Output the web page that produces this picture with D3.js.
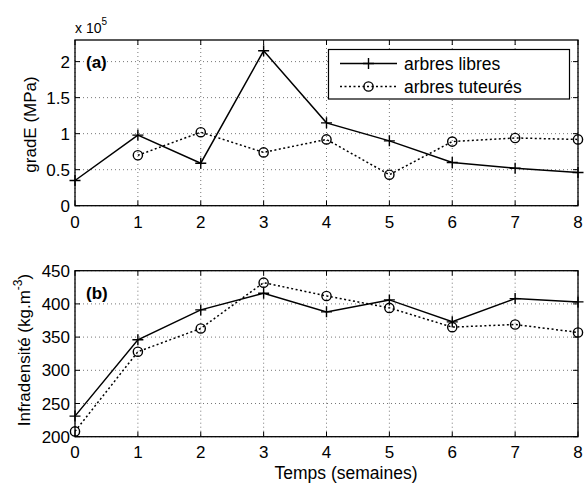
<!DOCTYPE html>
<html><head><meta charset="utf-8">
<script src="https://cdn.jsdelivr.net/npm/d3@7"></script>
<style>body{margin:0;background:#fff} text{font-family:"Liberation Sans",Arial,Helvetica,sans-serif;fill:#000}</style>
</head><body><svg id="c" width="584" height="483"></svg>
<script>
// ---- data ----
const weeks = [0,1,2,3,4,5,6,7,8];
const gradELibres   = [0.35,0.98,0.59,2.15,1.15,0.90,0.60,0.52,0.46];   // x 1e5 MPa
const gradETuteures = [null,0.70,1.02,0.74,0.92,0.43,0.89,0.94,0.92];
const infraLibres   = [231,346,391,416,388,406,373,408,403];
const infraTuteures = [208,328,363,432,412,394,365,369,357];
const xTicks  = [0,1,2,3,4,5,6,7,8];
const yTicksA = [0,0.5,1,1.5,2];
const yTicksB = [200,250,300,350,400,450];
const seriesNames = ["arbres libres","arbres tuteurés"];

const svg = d3.select("#c");
const L = 75, R = 578;
const x = d3.scaleLinear().domain([0,8]).range([L,R]);

function plus(g, px, py){
  g.append("path").attr("d",`M${px-5.5},${py}H${px+5.5}M${px},${py-5.5}V${py+5.5}`)
   .attr("stroke","#000").attr("stroke-width",1.4).attr("fill","none");
}
function circ(g, px, py){
  g.append("circle").attr("cx",px).attr("cy",py).attr("r",4.6)
   .attr("stroke","#000").attr("stroke-width",1.4).attr("fill","none");
}

function panel(top, bottom, domain, yTicks, libres, tuteures, label, fmt, xLabBase){
  const y = d3.scaleLinear().domain(domain).range([bottom, top]);
  const g = svg.append("g");
  // grid
  xTicks.forEach(t=>{
    g.append("line").attr("x1",x(t)).attr("x2",x(t)).attr("y1",top).attr("y2",bottom)
     .attr("stroke","#777").attr("stroke-width",1).attr("stroke-dasharray","1,3");
  });
  yTicks.forEach(t=>{
    g.append("line").attr("x1",L).attr("x2",R).attr("y1",y(t)).attr("y2",y(t))
     .attr("stroke","#777").attr("stroke-width",1).attr("stroke-dasharray","1,3");
  });
  // ticks inward on all sides
  xTicks.forEach(t=>{
    g.append("line").attr("x1",x(t)).attr("x2",x(t)).attr("y1",bottom).attr("y2",bottom-5).attr("stroke","#000");
    g.append("line").attr("x1",x(t)).attr("x2",x(t)).attr("y1",top).attr("y2",top+5).attr("stroke","#000");
    g.append("text").attr("x",x(t)).attr("y",xLabBase).attr("text-anchor","middle")
     .attr("font-size",17).text(t);
  });
  yTicks.forEach(t=>{
    g.append("line").attr("x1",L).attr("x2",L+5).attr("y1",y(t)).attr("y2",y(t)).attr("stroke","#000");
    g.append("line").attr("x1",R).attr("x2",R-5).attr("y1",y(t)).attr("y2",y(t)).attr("stroke","#000");
    g.append("text").attr("x",70).attr("y",y(t)).attr("dy","0.36em").attr("text-anchor","end")
     .attr("font-size",17).text(fmt(t));
  });
  g.append("rect").attr("x",L).attr("y",top).attr("width",R-L).attr("height",bottom-top)
   .attr("fill","none").attr("stroke","#000").attr("stroke-width",1.3);
  // lines
  const line = d3.line().defined(d=>d[1]!==null).x(d=>x(d[0])).y(d=>y(d[1]));
  const dl = weeks.map((w,i)=>[w,libres[i]]);
  const dt = weeks.map((w,i)=>[w,tuteures[i]]);
  g.append("path").attr("d",line(dt.filter(d=>d[1]!==null))).attr("fill","none")
   .attr("stroke","#000").attr("stroke-width",1.5).attr("stroke-dasharray","2,2.5");
  g.append("path").attr("d",line(dl)).attr("fill","none")
   .attr("stroke","#000").attr("stroke-width",1.5);
  dl.forEach(d=>plus(g,x(d[0]),y(d[1])));
  dt.filter(d=>d[1]!==null).forEach(d=>circ(g,x(d[0]),y(d[1])));
  g.append("text").attr("x",86).attr("y",top+28).attr("font-size",17).attr("font-weight","bold").text(label);
  return {g,y};
}

const A = panel(40, 205.7, [0,2.3], yTicksA, gradELibres, gradETuteures, "(a)", d=>String(d), 228);
const B = panel(270.7, 436.7, [200,450], yTicksB, infraLibres, infraTuteures, "(b)", d=>String(d), 458);

// multiplier
const mt = svg.append("text").attr("x",75).attr("y",33).attr("font-size",14);
mt.append("tspan").text("x 10");
mt.append("tspan").attr("dy",-8).attr("font-size",10).text("5");

// y labels
svg.append("text").attr("transform","translate(36,124.5) rotate(-90)").attr("text-anchor","middle")
  .attr("font-size",17).text("gradE (MPa)");
const yl = svg.append("text").attr("transform","translate(30,350) rotate(-90)").attr("text-anchor","middle")
  .attr("font-size",17);
yl.append("tspan").text("Infradensité (kg.m");
yl.append("tspan").attr("dy",-8).attr("font-size",12).text("-3");
yl.append("tspan").attr("dy",8).text(")");

// x label
svg.append("text").attr("x",346).attr("y",479).attr("text-anchor","middle").attr("font-size",17.5)
  .text("Temps (semaines)");

// legend
const lg = svg.append("g");
lg.append("rect").attr("x",328.5).attr("y",49.5).attr("width",241).attr("height",49.5)
  .attr("fill","#fff").attr("stroke","#000").attr("stroke-width",1.2);
lg.append("line").attr("x1",340).attr("x2",397).attr("y1",63.5).attr("y2",63.5).attr("stroke","#000").attr("stroke-width",1.5);
plus(lg,368.5,63.5);
lg.append("line").attr("x1",340).attr("x2",397).attr("y1",86.5).attr("y2",86.5).attr("stroke","#000")
  .attr("stroke-width",1.5).attr("stroke-dasharray","2,2.5");
circ(lg,368.5,86.5);
lg.append("text").attr("x",404).attr("y",70).attr("font-size",17.5).text(seriesNames[0]);
lg.append("text").attr("x",404).attr("y",92.5).attr("font-size",17.5).text(seriesNames[1]);
</script></body></html>
